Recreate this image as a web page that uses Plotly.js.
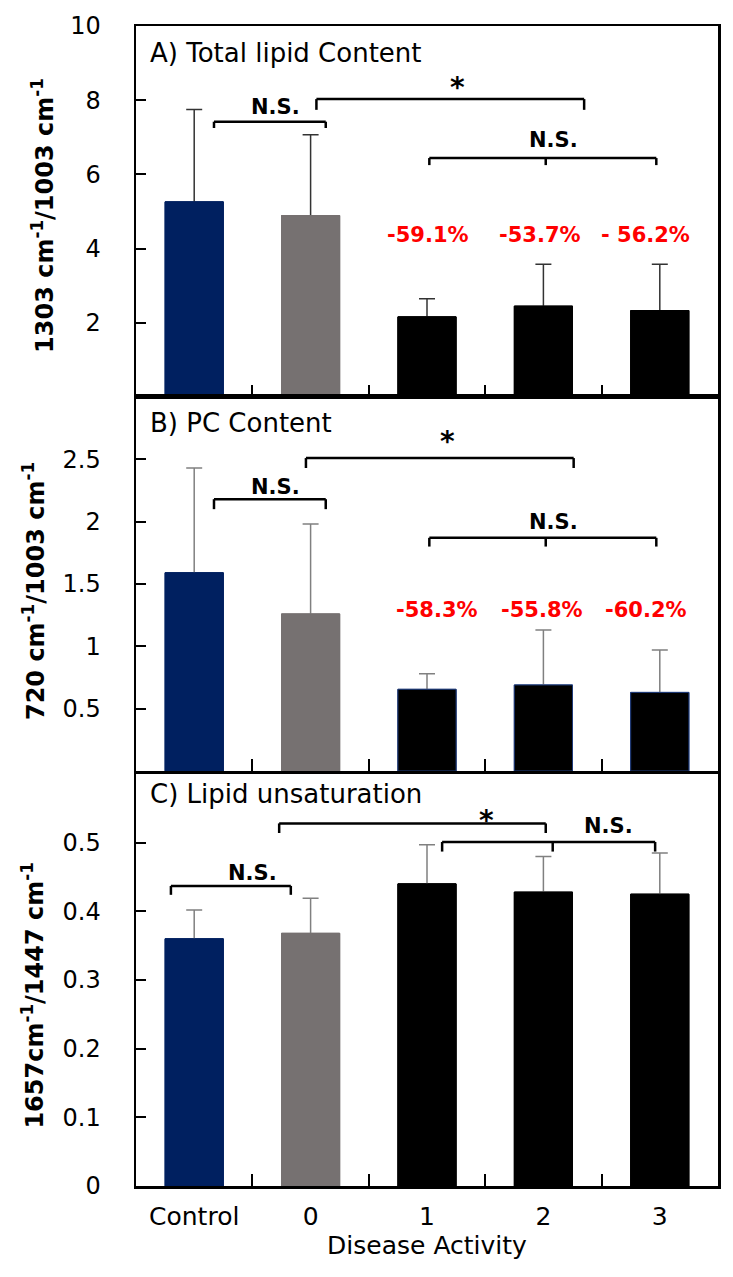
<!DOCTYPE html>
<html>
<head>
<meta charset="utf-8">
<script src="https://cdn.plot.ly/plotly-3.0.1.min.js"></script>
<style>
  html, body { margin: 0; padding: 0; background: #ffffff; }
  #chart { width: 733px; height: 1277px; }
</style>
</head>
<body>
<div id="chart"></div>
<script>
// ---------- data ----------
const categories = ['Control', '0', '1', '2', '3'];

const totalLipid      = [5.26, 4.89, 2.16, 2.45, 2.33];
const totalLipidErr   = [2.49, 2.18, 0.49, 1.13, 1.25];

const pcContent       = [1.59, 1.26, 0.655, 0.69, 0.63];
const pcContentErr    = [0.84, 0.72, 0.125, 0.44, 0.34];

const unsaturation    = [0.360, 0.368, 0.440, 0.428, 0.425];
const unsaturationErr = [0.042, 0.051, 0.057, 0.052, 0.060];

const pctLabelsA = ['-59.1%', '-53.7%', '- 56.2%'];
const pctLabelsB = ['-58.3%', '-55.8%', '-60.2%'];

const tickValsA = [2, 4, 6, 8, 10];
const tickValsB = [0.5, 1, 1.5, 2, 2.5];
const tickValsC = [0, 0.1, 0.2, 0.3, 0.4, 0.5];

const panelTitles = ['A) Total lipid Content', 'B) PC Content', 'C) Lipid unsaturation'];
const yTitles = [
  '1303 cm<sup>-1</sup>/1003 cm<sup>-1</sup>',
  '720 cm<sup>-1</sup>/1003 cm<sup>-1</sup>',
  '1657cm<sup>-1</sup>/1447 cm<sup>-1</sup>'
];
const xTitle = 'Disease Activity';

// ---------- styling ----------
const FONT = 'DejaVu Sans';
const barColors = ['#002060', '#767171', '#000000', '#000000', '#000000'];

// significance brackets: [x0, x1, yTop, yLegEnd, middle legs]
const bracketsA = [[0.17, 1.13, 7.42, 7.25, []], [1.05, 3.35, 8.03, 7.74, []], [2.02, 3.97, 6.44, 6.25, [3.02]]];
const bracketsB = [[0.17, 1.13, 2.18, 2.10, []], [0.96, 3.26, 2.51, 2.43, []], [2.02, 3.97, 1.87, 1.80, [3.02]]];
const bracketsC = [[-0.20, 0.83, 0.437, 0.424, []], [0.73, 3.02, 0.528, 0.514, []], [2.13, 3.96, 0.501, 0.487, [3.08]]];

function bracketShapes(list, xr, yr) {
  const out = [];
  const ln = {color: '#000', width: 2.5};
  list.forEach(([x0, x1, y, yl, mids]) => {
    out.push({type: 'line', xref: xr, yref: yr, x0: x0, x1: x1, y0: y, y1: y, line: ln});
    [x0, x1].concat(mids).forEach(xx => {
      out.push({type: 'line', xref: xr, yref: yr, x0: xx, x1: xx, y0: y, y1: yl, line: ln});
    });
  });
  return out;
}

// error bars drawn from the bar base up; an identical bar drawn on top hides the part inside the bar
function barWithError(vals, errs, xa, ya, errColor, lineColors) {
  const errTrace = {
    type: 'bar', x: categories, y: vals, xaxis: xa, yaxis: ya, width: 0.5,
    marker: {color: barColors, line: {color: lineColors, width: 1}},
    error_y: {type: 'data', symmetric: false, array: errs, arrayminus: vals,
              color: errColor, thickness: 1.5, width: 8},
    hoverinfo: 'skip'
  };
  const cover = {
    type: 'bar', x: categories, y: vals, xaxis: xa, yaxis: ya, width: 0.5,
    marker: {color: barColors, line: {color: lineColors, width: 1}},
    hoverinfo: 'skip'
  };
  return [errTrace, cover];
}

const traces = [].concat(
  barWithError(totalLipid, totalLipidErr, 'x', 'y', '#333333', barColors),
  barWithError(pcContent, pcContentErr, 'x2', 'y2', '#808080', ['#002060', '#767171', '#1f3b7a', '#1f3b7a', '#1f3b7a']),
  barWithError(unsaturation, unsaturationErr, 'x3', 'y3', '#808080', barColors)
);

function xAxis(anchor, showLabels) {
  return {
    anchor: anchor, domain: [0, 1], type: 'category',
    categoryorder: 'array', categoryarray: categories,
    range: [-0.5, 4.5], tickson: 'boundaries',
    ticks: 'inside', ticklen: 12, tickwidth: 2, tickcolor: '#000',
    showline: true, linecolor: '#000', linewidth: 2.5, mirror: true,
    showgrid: false, zeroline: false,
    showticklabels: showLabels,
    tickfont: {family: FONT, size: 25, color: '#000'},
    ticklabelstandoff: 6
  };
}
function yAxis(anchor, domain, range, tv) {
  return {
    anchor: anchor, domain: domain, range: range,
    tickmode: 'array', tickvals: tv,
    ticks: 'inside', ticklen: 10, tickwidth: 2, tickcolor: '#000',
    showline: true, linecolor: '#000', linewidth: 2.5, mirror: true,
    showgrid: false, zeroline: false,
    tickfont: {family: FONT, size: 24, color: '#000'},
    ticklabelstandoff: 28
  };
}

const xaxis3 = xAxis('y3', true);
xaxis3.title = {text: xTitle, font: {family: FONT, size: 25, color: '#000'}, standoff: 4};

const annFont = {family: FONT, size: 21, color: '#000', weight: 'bold'};
const starFont = {family: FONT, size: 28, color: '#000', weight: 'bold'};
const redFont = {family: FONT, size: 21, color: '#ff0000', weight: 'bold'};

const annotations = [];
function txt(x, y, xr, yr, text, font) {
  annotations.push({x: x, y: y, xref: xr, yref: yr, text: text, showarrow: false,
                    xanchor: 'center', yanchor: 'middle', font: font});
}
// panel A
txt(0.70, 7.82, 'x', 'y', 'N.S.', annFont);
txt(2.26, 8.33, 'x', 'y', '*', starFont);
txt(3.09, 6.93, 'x', 'y', 'N.S.', annFont);
[2.01, 2.97, 3.88].forEach((xx, i) => txt(xx, 4.37, 'x', 'y', pctLabelsA[i], redFont));
// panel B
txt(0.70, 2.28, 'x2', 'y2', 'N.S.', annFont);
txt(2.18, 2.64, 'x2', 'y2', '*', starFont);
txt(3.09, 2.00, 'x2', 'y2', 'N.S.', annFont);
[2.09, 2.99, 3.88].forEach((xx, i) => txt(xx, 1.29, 'x2', 'y2', pctLabelsB[i], redFont));
// panel C
txt(0.50, 0.456, 'x3', 'y3', 'N.S.', annFont);
txt(2.51, 0.532, 'x3', 'y3', '*', starFont);
txt(3.56, 0.524, 'x3', 'y3', 'N.S.', annFont);

// panel titles
const titleY = [0.9767, 0.6578, 0.338];
panelTitles.forEach((t, i) => annotations.push({
  x: 0.0206, y: titleY[i], xref: 'paper', yref: 'paper', text: t, showarrow: false,
  xanchor: 'left', yanchor: 'middle', font: {family: FONT, size: 26, color: '#000'}
}));
// y-axis titles
const yTitlePos = [[-0.160, 0.837], [-0.175, 0.513], [-0.177, 0.165]];
yTitles.forEach((t, i) => annotations.push({
  x: yTitlePos[i][0], y: yTitlePos[i][1], xref: 'paper', yref: 'paper', text: t,
  showarrow: false, textangle: -90, xanchor: 'center', yanchor: 'middle',
  font: {family: FONT, size: 24, color: '#000', weight: 'bold'}
}));

const layout = {
  width: 733, height: 1277,
  margin: {l: 136, r: 15, t: 26, b: 91},
  paper_bgcolor: '#ffffff', plot_bgcolor: '#ffffff',
  showlegend: false,
  barmode: 'overlay',
  xaxis: xAxis('y', false),
  yaxis: yAxis('x', [0.6802, 1], [0, 10], tickValsA),
  xaxis2: xAxis('y2', false),
  yaxis2: yAxis('x2', [0.3578, 0.6802], [0, 3], tickValsB),
  xaxis3: xaxis3,
  yaxis3: yAxis('x3', [0, 0.3552], [0, 0.6], tickValsC),
  shapes: [].concat(
    bracketShapes(bracketsA, 'x', 'y'),
    bracketShapes(bracketsB, 'x2', 'y2'),
    bracketShapes(bracketsC, 'x3', 'y3')
  ),
  annotations: annotations
};

Plotly.newPlot('chart', traces, layout, {staticPlot: true, displayModeBar: false});
</script>
</body>
</html>
